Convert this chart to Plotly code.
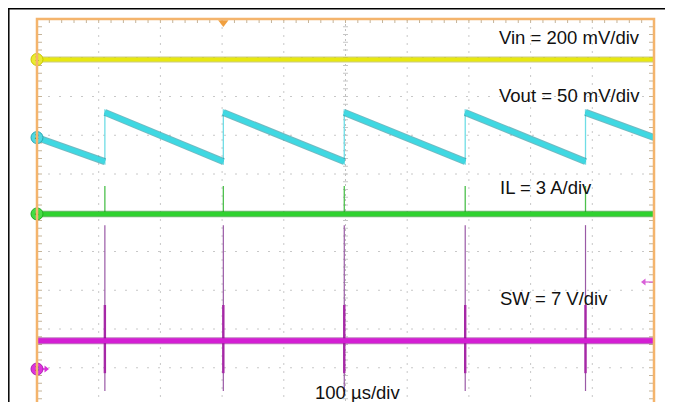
import plotly.graph_objects as go

# ---------------- data (read from the scope capture) ----------------
# time axis: 100 us/div, 10 divisions on screen
time_ticks_us = [0, 100, 200, 300, 400, 500, 600, 700, 800, 900, 1000]
# switching events (us)
events_us = [110, 302, 498, 694, 889]

# levels in screen divisions (0 = top of graticule, negative downward)
vin_t = [0, 1000]
vin_div = [-1.045, -1.045]

vout_t = [0, 110, 110, 302, 302, 498, 498, 694, 694, 889, 889, 1000]
vout_div = [-3.06, -3.68, -2.41, -3.68, -2.41, -3.68, -2.41, -3.68, -2.41, -3.68, -2.41, -3.06]

il_t = [0, 1000]
il_div = [-5.03, -5.03]
il_spike_top_div = [-4.31, -4.31, -4.31, -4.31, -4.31]

sw_t = [0, 1000]
sw_div = [-8.30, -8.30]
sw_spike_top_div = [-5.32, -5.32, -5.32, -5.32, -5.32]
sw_spike_bot_div = [-9.60, -9.60, -9.60, -9.60, -9.60]
sw_ring_top_div = [-7.38, -7.38, -7.38, -7.38, -7.38]
sw_ring_bot_div = [-9.14, -9.14, -9.14, -9.14, -9.14]

labels = ["Vin = 200 mV/div", "Vout = 50 mV/div", "IL = 3 A/div", "SW = 7 V/div"]
time_label = "100 µs/div"

# ---------------- calibration of the picture ----------------
PAGE_OFF = 8                 # page body margin
W, H = 673 - PAGE_OFF, 402 - PAGE_OFF
X0_PX, PX_PER_US = 37.0 - PAGE_OFF, 0.617
Y0_PX, PX_PER_DIV = 19.0 - PAGE_OFF, 38.75


def tx(page_px):
    return (page_px - PAGE_OFF - X0_PX) / PX_PER_US


def ty(page_py):
    return (Y0_PX - (page_py - PAGE_OFF)) / PX_PER_DIV


xr = [tx(PAGE_OFF), tx(PAGE_OFF + W)]
yr = [ty(PAGE_OFF + H), ty(PAGE_OFF)]

fig = go.Figure()


def line(xs, ys, color, width, dash=None, opacity=1.0):
    fig.add_trace(go.Scatter(x=xs, y=ys, mode="lines", opacity=opacity,
                             line=dict(color=color, width=width, dash=dash),
                             hoverinfo="skip", showlegend=False))


BOTTOM = ty(410)

# ---------------- graticule ----------------
gx, gy = [], []
for t in time_ticks_us[1:-1]:
    if t == 500:
        continue
    gx += [t, t, None]
    gy += [0, BOTTOM, None]
line(gx, gy, "#c8c8c8", 1, dash="2px,6px")
hx, hy = [], []
for k in range(1, 10):
    hx += [0, 1000, None]
    hy += [-k, -k, None]
line(hx, hy, "#c8c8c8", 1, dash="2px,9px")
# center vertical line
line([500, 500], [0, BOTTOM], "#c0c0c0", 1, dash="2px,3px")

# ticks
tkx, tky = [], []
for i in range(0, 51):
    t = i * 20
    tkx += [t, t, None]
    tky += [0, -4 / PX_PER_DIV, None]
cx, cy = [], []
for j in range(1, 50):
    y = -j * 0.2
    tkx += [0, 5 / PX_PER_US, None, 1000, 1000 - 5 / PX_PER_US, None]
    tky += [y, y, None, y, y, None]
    cx += [500 - 2.5 / PX_PER_US, 500 + 2.5 / PX_PER_US, None]
    cy += [y, y, None]
line(tkx, tky, "#c4b49a", 1)
line(cx, cy, "#c6c6c6", 1)

# ---------------- traces ----------------
# Vin (yellow)
line(vin_t, vin_div, "#9a9a10", 6, opacity=0.5)
line(vin_t, vin_div, "#e8e810", 4)

# Vout (cyan) : thick ramps, thin jumps
rx, ry, jx, jy = [], [], [], []
for i in range(len(vout_t)):
    if i > 0 and vout_t[i] == vout_t[i - 1]:
        rx.append(None)
        ry.append(None)
        jx += [vout_t[i - 1], vout_t[i], None]
        jy += [vout_div[i - 1] - 0.08, vout_div[i] + 0.08, None]
    rx.append(vout_t[i])
    ry.append(vout_div[i])
line(jx, jy, "#6fdde6", 1.3)
line(rx, ry, "#178c98", 7, opacity=0.6)
line(rx, ry, "#3fd8e2", 5)

# IL (green)
ex, ey = [], []
for t, top in zip(events_us, il_spike_top_div):
    ex += [t, t, None]
    ey += [il_div[0], top, None]
line(ex, ey, "#4cc04c", 1.3)
line(il_t, il_div, "#188a18", 6.5, opacity=0.6)
line(il_t, il_div, "#2fd22f", 4.5)

# SW (magenta)
sx, sy, rgx, rgy = [], [], [], []
for t, a, b, c, d in zip(events_us, sw_spike_top_div, sw_spike_bot_div,
                         sw_ring_top_div, sw_ring_bot_div):
    sx += [t, t, None]
    sy += [a, b, None]
    rgx += [t, t, None]
    rgy += [c, d, None]
line(sx, sy, "#9a5aa6", 1.2)
line(rgx, rgy, "#a628a6", 2.4)
line(sw_t, sw_div, "#8a148a", 7, opacity=0.55)
line(sw_t, sw_div, "#d41ed4", 5)


# ---------------- channel markers ----------------
def chan(y, color, edge, label):
    fig.add_trace(go.Scatter(x=[0], y=[y], mode="markers+text", text=[label],
                             textposition="middle center",
                             textfont=dict(size=7, color="#555500", family="Liberation Sans"),
                             marker=dict(size=12, color=color, line=dict(color=edge, width=1)),
                             hoverinfo="skip", showlegend=False))


chan(vin_div[0], "#eaea30", "#c8c800", "1")
chan(vout_div[0], "#4fd8e2", "#2aa8b2", "2")
chan(il_div[0], "#44dd44", "#22aa22", "4")
# ch3 ground marker + arrow
line([tx(37), tx(47)], [ty(369), ty(369)], "#d830d8", 1.5)
fig.add_trace(go.Scatter(x=[tx(46)], y=[ty(369)], mode="markers",
                         marker=dict(symbol="triangle-right", size=6, color="#d830d8"),
                         hoverinfo="skip", showlegend=False))
chan(ty(369), "#dd33dd", "#b020b0", "3")
# right-side arrow
line([tx(644), tx(653)], [ty(282), ty(282)], "#d860d8", 1.2)
fig.add_trace(go.Scatter(x=[tx(644)], y=[ty(282)], mode="markers",
                         marker=dict(symbol="triangle-left", size=6, color="#d860d8"),
                         hoverinfo="skip", showlegend=False))
# trigger marker
fig.add_trace(go.Scatter(x=[events_us[1]], y=[ty(22.5)], mode="markers",
                         marker=dict(symbol="triangle-down", size=9, color="#f0a040"),
                         hoverinfo="skip", showlegend=False))

# ---------------- frame shapes ----------------
shapes = [
    dict(type="rect", xref="x", yref="y", x0=0, x1=1000, y0=0, y1=BOTTOM,
         line=dict(color="#f4b46c", width=2.5), layer="above"),
    dict(type="line", xref="paper", yref="paper", x0=0.8 / W, x1=0.8 / W, y0=0, y1=1,
         line=dict(color="#000000", width=1.5)),
    dict(type="line", xref="paper", yref="paper", x0=0, x1=1, y0=1 - 0.8 / H, y1=1 - 0.8 / H,
         line=dict(color="#000000", width=1.5)),
]

font = dict(family="Liberation Sans, Arial, sans-serif", size=18.5, color="#111111")
label_px = [(497, 37), (497, 95), (498, 187), (498, 298)]
annotations = [dict(x=tx(px), y=ty(py), xref="x", yref="y", text=s, showarrow=False,
                    xanchor="left", yanchor="middle", font=font)
               for s, (px, py) in zip(labels, label_px)]
annotations.append(dict(x=tx(313), y=ty(392), xref="x", yref="y", text=time_label,
                        showarrow=False, xanchor="left", yanchor="middle", font=font))

fig.update_layout(
    width=W, height=H,
    margin=dict(l=0, r=0, t=0, b=0),
    paper_bgcolor="white", plot_bgcolor="white",
    xaxis=dict(range=xr, visible=False, fixedrange=True),
    yaxis=dict(range=yr, visible=False, fixedrange=True),
    shapes=shapes, annotations=annotations, showlegend=False,
)

fig.write_html("out.html")
